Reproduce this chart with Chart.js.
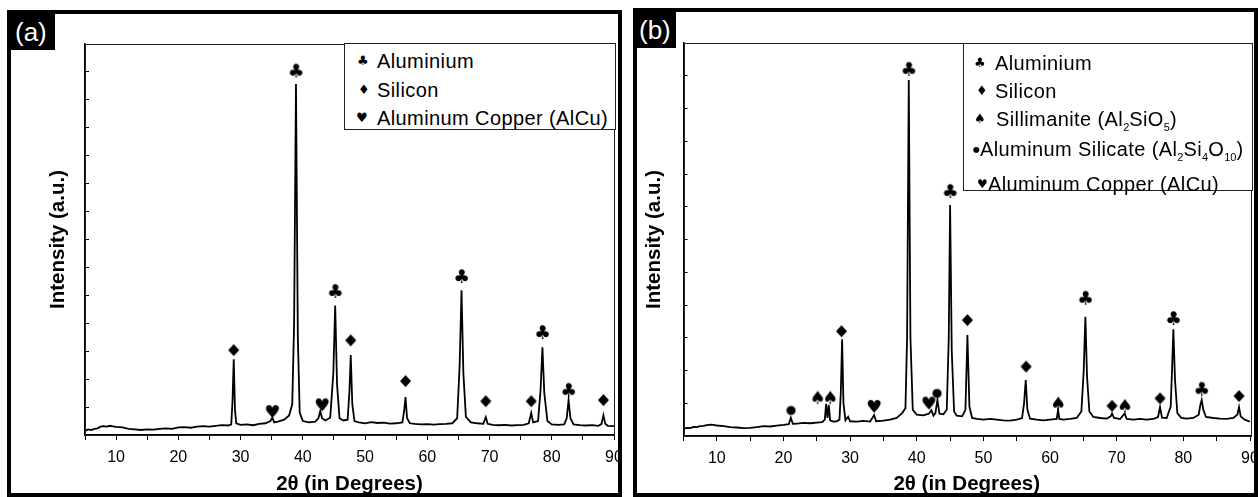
<!DOCTYPE html>
<html>
<head>
<meta charset="utf-8">
<script src="https://cdn.jsdelivr.net/npm/chart.js@4.4.1/dist/chart.umd.min.js"></script>
<style>
  body { margin:0; width:1258px; height:497px; position:relative; overflow:hidden; background:#fff;
         font-family:"Liberation Sans", Arial, sans-serif; }
  canvas { position:absolute; top:0; }
  .frame { position:absolute; border:4px solid #000; box-sizing:border-box; pointer-events:none; }
  .tag { position:absolute; background:#000; color:#fff; font-size:26px; line-height:40px; height:40px;
         padding-top:2px; box-sizing:border-box; }
  .legend { position:absolute; border:1px solid #222; background:#fff; box-sizing:border-box; }
  .txt { position:absolute; font-size:20px; line-height:20px; letter-spacing:0.4px; white-space:nowrap; color:#000; }
  .sym { position:absolute; font-family:"DejaVu Sans"; font-size:13px; line-height:20px; color:#000; }
  .sub { font-size:11px; vertical-align:-5px; letter-spacing:0; }
</style>
</head>
<body>
<canvas id="chartA" width="621" height="497" style="left:0"></canvas>
<canvas id="chartB" width="625" height="497" style="left:633px"></canvas>

<div class="legend" style="left:344px;top:43px;width:272px;height:87px">
  <span class="sym" style="left:12px;top:7px">♣</span><span class="txt" style="left:32px;top:7px">Aluminium</span>
  <span class="sym" style="left:13px;top:36px">♦</span><span class="txt" style="left:32px;top:36px">Silicon</span>
  <span class="sym" style="left:11px;top:64px">♥</span><span class="txt" style="left:32px;top:64px">Aluminum Copper (AlCu)</span>
</div>

<div class="legend" style="left:963px;top:43px;width:290px;height:148px">
  <span class="sym" style="left:10px;top:9px">♣</span><span class="txt" style="left:31px;top:9px">Aluminium</span>
  <span class="sym" style="left:12px;top:37px">♦</span><span class="txt" style="left:31px;top:37px">Silicon</span>
  <span class="sym" style="left:10px;top:65px">♠</span><span class="txt" style="left:32px;top:65px">Sillimanite (Al<span class="sub">2</span>SiO<span class="sub">5</span>)</span>
  <span class="sym" style="left:9px;top:96px;font-size:8px">●</span><span class="txt" style="left:16px;top:95px">Aluminum Silicate (Al<span class="sub">2</span>Si<span class="sub">4</span>O<span class="sub">10</span>)</span>
  <span class="sym" style="left:13px;top:130px;font-size:12px">♥</span><span class="txt" style="left:24px;top:130px">Aluminum Copper (AlCu)</span>
</div>

<div class="frame" style="left:7px;top:10px;width:615px;height:487px"></div>
<div class="frame" style="left:633px;top:8px;width:625px;height:489px"></div>
<div class="tag" style="left:7px;top:10px;width:48px;padding-left:8px">(a)</div>
<div class="tag" style="left:633px;top:8px;width:43px;padding-left:6px">(b)</div>

<script>
// ---- panel (a): as-cast alloy ----
const thetaA = [5,5.5,6,6.5,7,7.5,8,8.5,9,9.5,10,11,12,13,14,15,16,17,18,19,20,21,22,23,24,25,26,27,28,
  28.5,28.7,28.9,29.1,29.3,30,31,32,33,34,34.8,35.1,35.4,36,37,37.8,38.3,38.6,38.9,39.2,39.5,40,41,42,
  42.5,42.8,43.1,43.6,44.4,44.9,45.2,45.5,45.9,46.5,47.2,47.5,47.7,47.95,48.3,49,50,51,52,53,54,55,56,
  56.3,56.5,56.75,57.2,58,59,60,61,62,63,64,64.8,65.2,65.5,65.8,66.2,67,68,69,69.4,69.7,70.5,71.5,72.5,
  73.5,74.5,75.5,76.3,76.7,77,77.8,78.2,78.5,78.8,79.3,80,81,82,82.4,82.7,83,83.5,84.5,85.5,86.5,87.5,
  88,88.3,88.6,89,90];
const intensityA = [0.15,0.2,0.18,0.22,0.24,0.3,0.32,0.3,0.33,0.31,0.29,0.27,0.22,0.2,0.18,0.2,0.19,0.22,
  0.24,0.22,0.27,0.28,0.26,0.3,0.32,0.3,0.33,0.35,0.34,
  0.38,1.2,2.71,0.9,0.42,0.36,0.38,0.35,0.4,0.42,0.5,0.62,0.45,0.48,0.55,0.7,1.1,4.0,12.57,3.5,0.8,0.5,0.45,0.48,
  0.6,0.85,0.6,0.52,0.62,2.2,4.64,1.8,0.6,0.52,0.55,1.6,2.86,1.1,0.5,0.45,0.42,0.46,0.43,0.44,0.41,0.42,0.45,
  0.9,1.36,0.6,0.42,0.4,0.38,0.39,0.37,0.39,0.4,0.42,0.6,2.5,5.18,2.2,0.65,0.45,0.42,0.4,0.64,0.4,0.36,0.35,0.36,
  0.34,0.35,0.36,0.42,0.79,0.45,0.5,1.6,3.14,1.5,0.5,0.38,0.36,0.38,0.6,1.25,0.6,0.38,0.35,0.34,0.35,0.33,
  0.4,0.71,0.4,0.33,0.32];

// phase markers (a): 2θ and marker height
const alThetaA = [38.9,45.2,65.5,78.5,82.7];
const alHeightA = [13.07,5.18,5.71,3.71,1.64];
const siThetaA = [28.9,47.7,56.5,69.4,76.7,88.3];
const siHeightA = [3.04,3.39,1.93,1.21,1.21,1.25];
const cuThetaA = [35.1,43.1];
const cuHeightA = [0.86,1.1];

// ---- panel (b) ----
const thetaB = [5,5.5,6,6.5,7,7.5,8,8.5,9,9.5,10,11,12,13,14,15,16,17,18,19,20,20.8,21.1,21.4,22,23,24,25,
  25.8,26.2,26.4,26.6,26.8,27,27.5,28,28.4,28.6,28.8,29,29.3,29.7,30,31,32,33,33.6,33.9,35,36,37,37.8,38.3,
  38.55,38.8,39.05,39.4,40,41,41.8,42.2,42.5,42.8,43.1,43.4,44,44.5,44.8,45,45.25,45.6,46,46.8,47.3,47.6,
  47.9,48.3,49,50,51,52,53,54,55,55.8,56.1,56.35,56.6,57,58,59,60,61,61.2,61.4,62,63,64,64.7,65.05,65.3,
  65.55,65.9,66.5,67.5,68.5,69.1,69.3,69.6,70.5,71.2,71.5,72.5,73.5,74.5,75.5,76.2,76.5,76.8,77.5,78.1,
  78.3,78.5,78.75,79.1,79.7,80.5,81.5,82.3,82.55,82.75,83,83.4,84.5,85.5,86.5,87.5,88.1,88.35,88.6,89.2,90];
const intensityB = [0.22,0.25,0.24,0.28,0.27,0.3,0.31,0.33,0.35,0.34,0.32,0.3,0.27,0.26,0.24,0.25,0.27,0.3,
  0.29,0.32,0.34,0.36,0.56,0.37,0.38,0.4,0.39,0.41,
  0.42,0.5,0.98,0.55,0.95,0.48,0.44,0.45,0.5,1.3,2.95,1.0,0.48,0.59,0.45,0.44,0.46,0.44,0.64,0.45,0.47,0.5,
  0.55,0.7,0.85,3.0,10.87,3.0,0.8,0.65,0.63,0.68,0.79,0.62,0.7,1.1,0.68,0.66,0.8,3.0,7.05,2.6,0.75,0.62,0.6,
  0.8,3.08,0.9,0.55,0.52,0.5,0.52,0.5,0.48,0.47,0.5,0.55,1.0,1.71,0.8,0.53,0.5,0.48,0.5,0.52,0.79,0.52,0.5,
  0.52,0.55,0.75,2.0,3.64,1.8,0.75,0.58,0.55,0.53,0.6,0.69,0.55,0.52,0.69,0.52,0.5,0.52,0.5,0.52,0.58,0.88,
  0.56,0.55,0.9,2.0,3.26,1.7,0.7,0.55,0.53,0.55,0.65,0.95,1.1,0.8,0.58,0.55,0.53,0.52,0.55,0.65,0.88,0.6,
  0.5,0.44];

const alThetaB = [38.8,45.0,65.3,78.5,82.75];
const alHeightB = [11.23,7.5,4.24,3.62,1.46];
const siThetaB = [28.7,47.6,56.4,69.3,76.5,88.35];
const siHeightB = [3.2,3.54,2.12,0.92,1.15,1.22];
const spThetaB = [25.1,27.0,61.2,71.2];
const spHeightB = [1.2,1.2,1.02,0.95];
const asThetaB = [21.1,43.0];
const asHeightB = [0.79,1.31];
const cuThetaB = [33.6,41.8];
const cuHeightB = [0.92,1.02];

function pts(xs, ys) {
  return xs.map((x, i) => ({ x: x, y: ys[i] }));
}

// draw a suit glyph into a small canvas so it can be used as a point style
function glyph(ch, size) {
  const c = document.createElement('canvas');
  c.width = c.height = Math.ceil(size * 1.2);
  const g = c.getContext('2d');
  g.font = size + 'px "DejaVu Sans"';
  g.fillStyle = '#000';
  g.textAlign = 'center';
  g.textBaseline = 'alphabetic';
  const m = g.measureText(ch);
  const h = m.actualBoundingBoxAscent + m.actualBoundingBoxDescent;
  g.fillText(ch, c.width / 2 + (m.actualBoundingBoxLeft - m.actualBoundingBoxRight) / 2,
    c.height / 2 + m.actualBoundingBoxAscent - h / 2);
  return c;
}

// the figure's diamonds are squarer than the font glyph
function rhomb(w, h) {
  const c = document.createElement('canvas');
  c.width = w + 2; c.height = h + 2;
  const g = c.getContext('2d');
  g.fillStyle = '#000';
  g.beginPath();
  g.moveTo(c.width / 2, 1);
  g.lineTo(c.width - 1, c.height / 2);
  g.lineTo(c.width / 2, c.height - 1);
  g.lineTo(1, c.height / 2);
  g.closePath();
  g.fill();
  return c;
}

const club = glyph('♣', 19);
const diamond = rhomb(11, 12);
const heart = glyph('♥', 18);
const spade = glyph('♠', 18);
const dot = glyph('●', 12);

function markers(xs, ys, img) {
  return { data: pts(xs, ys), showLine: false, pointStyle: img, pointRadius: 6, pointHoverRadius: 6 };
}

const plotFrame = {
  id: 'plotFrame',
  afterDatasetsDraw(chart) {
    const a = chart.chartArea, ctx = chart.ctx;
    ctx.save();
    ctx.strokeStyle = '#222';
    ctx.lineWidth = 1;
    ctx.strokeRect(Math.round(a.left) + 0.5, Math.round(a.top) + 0.5,
      Math.round(a.right - a.left), Math.round(a.bottom - a.top));
    ctx.restore();
  }
};

function makeChart(id, curve, sets, box) {
  new Chart(document.getElementById(id), {
    type: 'line',
    data: {
      datasets: [
        { data: curve, borderColor: '#000', borderWidth: 1.8, pointRadius: 0, tension: 0 }
      ].concat(sets)
    },
    options: {
      responsive: false,
      animation: false,
      events: [],
      layout: { padding: { left: 0, top: box.top, right: box.right, bottom: 0 } },
      plugins: { legend: { display: false }, tooltip: { enabled: false } },
      scales: {
        x: {
          type: 'linear', min: 5, max: 90,
          afterFit(s) { s.height = box.xh; s.paddingLeft = 0; s.paddingRight = 0; },
          ticks: {
            stepSize: 5, autoSkip: false, maxRotation: 0, color: '#000', padding: 8,
            font: { family: 'Liberation Sans', size: 16 },
            callback: v => (v % 10 === 0 ? v : '')
          },
          grid: { drawOnChartArea: false, tickLength: 5, color: '#000', tickWidth: 1 },
          border: { color: '#000', width: 1.5 },
          title: {
            display: true, text: '2θ (in Degrees)', color: '#000', padding: { top: 0, bottom: 0 },
            font: { family: 'Liberation Sans', size: 20.5, weight: 'bold' }
          }
        },
        y: {
          min: 0, max: box.ymax,
          afterFit(s) { s.width = box.yw; s.paddingTop = 0; s.paddingBottom = 0; },
          ticks: { display: false, stepSize: 1 },
          grid: { drawOnChartArea: false, tickLength: -4, color: '#000' },
          border: { color: '#000', width: 1.5 },
          title: {
            display: true, text: 'Intensity (a.u.)', color: '#000', padding: { top: box.tp, bottom: 0 },
            font: { family: 'Liberation Sans', size: 20.5, weight: 'bold' }
          }
        }
      }
    },
    plugins: [plotFrame]
  });
}

makeChart('chartA', pts(thetaA, intensityA), [
  markers(alThetaA, alHeightA, club),
  markers(siThetaA, siHeightA, diamond),
  markers(cuThetaA, cuHeightA, heart)
], { top: 44, right: 6, xh: 62, yw: 85, ymax: 14, tp: 45.7 });

makeChart('chartB', pts(thetaB, intensityB), [
  markers(alThetaB, alHeightB, club),
  markers(siThetaB, siHeightB, diamond),
  markers(spThetaB, spHeightB, spade),
  markers(asThetaB, asHeightB, dot),
  markers(cuThetaB, cuHeightB, heart)
], { top: 43, right: 8, xh: 61, yw: 50.5, ymax: 12, tp: 8.7 });
</script>
</body>
</html>
